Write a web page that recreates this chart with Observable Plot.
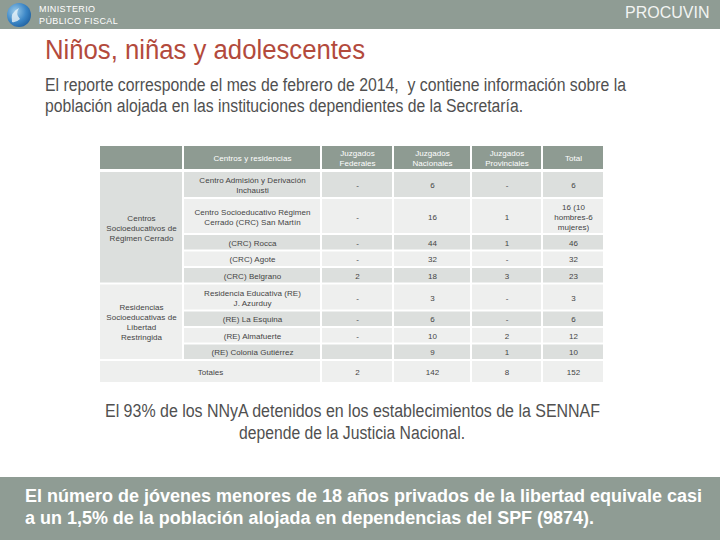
<!DOCTYPE html>
<html><head><meta charset="utf-8">
<script src="https://cdn.jsdelivr.net/npm/d3@7"></script>
<script src="https://cdn.jsdelivr.net/npm/@observablehq/plot@0.6"></script>
<style>
html,body{margin:0;padding:0;background:#fff;width:720px;height:540px;overflow:hidden;font-family:"Liberation Sans",Arial,sans-serif;}
.abs{position:absolute;white-space:nowrap;}
#topbar{position:absolute;left:0;top:0;width:720px;height:29px;background:#8f9c94;}
#botbar{position:absolute;left:0;top:477px;width:720px;height:63px;background:#8f9c94;}
.fit{display:inline-block;transform-origin:0 0;}
#table{position:absolute;left:0;top:140px;}
</style></head>
<body>
<div id="topbar"></div>
<svg class="abs" style="left:6px;top:2px" width="26" height="26" viewBox="0 0 26 26">
  <defs><radialGradient id="lg" cx="0.35" cy="0.35" r="0.75"><stop offset="0" stop-color="#9ccbe9"/><stop offset="0.6" stop-color="#3b86c6"/><stop offset="1" stop-color="#1f5f9e"/></radialGradient></defs>
  <circle cx="13" cy="13" r="12" fill="url(#lg)"/>
  <path d="M6 20 Q4 10 13 6 Q9 12 14 17 Q10 21 6 20Z" fill="#e9f2f8" opacity="0.8"/>
</svg>
<div class="abs" style="left:39px;top:5px;font-size:9px;line-height:9px;color:#fff;letter-spacing:0.4px">MINISTERIO</div>
<div class="abs" style="left:39px;top:17px;font-size:9px;line-height:9px;color:#fff;letter-spacing:0.4px">PÚBLICO FISCAL</div>
<div class="abs" style="left:625px;top:5px;font-size:16px;line-height:16px;color:#f2f4f2">PROCUVIN</div>

<div class="abs" style="left:45px;top:37px;font-size:27px;line-height:27px;color:#b34a3c"><span class="fit" data-w="320">Niños, niñas y adolescentes</span></div>
<div class="abs" style="left:45px;top:76px;font-size:18px;line-height:18px;color:#505050"><span class="fit" data-w="581">El reporte corresponde el mes de febrero de 2014,&nbsp; y contiene información sobre la</span></div>
<div class="abs" style="left:45px;top:97px;font-size:18px;line-height:18px;color:#505050"><span class="fit" data-w="478">población alojada en las instituciones dependientes de la Secretaría.</span></div>

<div id="table"></div>

<div class="abs" style="left:105px;top:402px;font-size:18px;line-height:18px;color:#505050"><span class="fit" data-w="495">El 93% de los NNyA detenidos en los establecimientos de la SENNAF</span></div>
<div class="abs" style="left:239px;top:424px;font-size:18px;line-height:18px;color:#505050"><span class="fit" data-w="226">depende de la Justicia Nacional.</span></div>

<div id="botbar"></div>
<div class="abs" style="left:25px;top:487px;font-size:18px;line-height:18px;color:#fff;font-weight:bold"><span class="fit" data-w="677">El número de jóvenes menores de 18 años privados de la libertad equivale casi</span></div>
<div class="abs" style="left:25px;top:509px;font-size:18px;line-height:18px;color:#fff;font-weight:bold"><span class="fit" data-w="569">a un 1,5% de la población alojada en dependencias del SPF (9874).</span></div>

<script>
// ---- data ----
const columns = ["Centros y residencias", "Juzgados\nFederales", "Juzgados\nNacionales", "Juzgados\nProvinciales", "Total"];
const groups = ["Centros\nSocioeducativos de\nRégimen Cerrado", "Residencias\nSocioeducativas de\nLibertad\nRestringida"];
const centros = [
  "Centro Admisión y Derivación\nInchausti",
  "Centro Socioeducativo Régimen\nCerrado (CRC) San Martín",
  "(CRC) Rocca",
  "(CRC) Agote",
  "(CRC) Belgrano",
  "Residencia Educativa (RE)\nJ. Azurduy",
  "(RE) La Esquina",
  "(RE) Almafuerte",
  "(RE) Colonia Gutiérrez"
];
const grupoDe = [0, 0, 0, 0, 0, 1, 1, 1, 1];
const federales = ["-", "-", "-", "-", "2", "-", "-", "-", ""];
const nacionales = ["6", "16", "44", "32", "18", "3", "6", "10", "9"];
const provinciales = ["-", "1", "1", "-", "3", "-", "-", "2", "1"];
const totalCol = ["6", "16 (10\nhombres-6\nmujeres)", "46", "32", "23", "3", "6", "12", "10"];
const totalesLabel = "Totales";
const totalesValues = ["2", "142", "8", "152"];

// ---- layout (styles/sizes) ----
const L = {x0: 100, y0: 6, colW: [82, 136, 70, 76, 69, 60], gap: 2, headerH: 23, headerGap: 3,
  rowH: {1: 14.5, 2: 25, 3: 34}, totalesH: 21};
const C = {header: "#8e9b92", dark: "#dcdfdd", light: "#eeefee", text: "#444444", headText: "#ffffff"};
const colX = c => L.x0 + d3.sum(L.colW.slice(0, c)) + c * L.gap;
const colR = c => colX(c) + L.colW[c];
const nLines = s => s.split("\n").length;

const cells = [];
let y = L.y0;
for (let c = 0; c < 6; c++) cells.push({x1: colX(c), x2: colR(c), y1: y, y2: y + L.headerH, fill: C.header, text: c === 0 ? "" : columns[c - 1], tfill: C.headText});
y += L.headerH + L.headerGap;
const rowY = [];
centros.forEach((name, i) => {
  const vals = [name, federales[i], nacionales[i], provinciales[i], totalCol[i]];
  const h = L.rowH[Math.max(...vals.map(nLines), 1)];
  const fill = i % 2 === 0 ? C.dark : C.light;
  rowY.push([y, y + h]);
  vals.forEach((v, k) => cells.push({x1: colX(k + 1), x2: colR(k + 1), y1: y, y2: y + h, fill, text: v, tfill: C.text}));
  y += h + L.gap;
});
groups.forEach((g, gi) => {
  const idx = grupoDe.map((v, i) => v === gi ? i : -1).filter(i => i >= 0);
  cells.push({x1: colX(0), x2: colR(0), y1: rowY[idx[0]][0], y2: rowY[idx[idx.length - 1]][1], fill: gi === 0 ? C.dark : C.light, text: g, tfill: C.text});
});
cells.push({x1: colX(0), x2: colR(1), y1: y, y2: y + L.totalesH, fill: C.light, text: totalesLabel, tfill: C.text});
totalesValues.forEach((v, k) => cells.push({x1: colX(k + 2), x2: colR(k + 2), y1: y, y2: y + L.totalesH, fill: C.light, text: v, tfill: C.text}));

const chart = Plot.plot({
  width: 720, height: 250, margin: 0,
  x: {type: "identity", axis: null},
  y: {type: "identity", axis: null},
  color: {type: "identity"},
  style: {background: "transparent", letterSpacing: "0.05px"},
  marks: [
    Plot.rect(cells, {x1: "x1", x2: "x2", y1: "y1", y2: "y2", fill: "fill"}),
    Plot.text(cells.filter(d => d.text), {
      x: d => (d.x1 + d.x2) / 2, y: d => (d.y1 + d.y2) / 2, text: "text", fill: "tfill",
      fontSize: 8, lineHeight: 1.25, fontFamily: "Liberation Sans, Arial, sans-serif"
    })
  ]
});
document.getElementById("table").appendChild(chart);

document.querySelectorAll(".fit").forEach(el => {
  const w = el.getBoundingClientRect().width;
  const t = +el.dataset.w;
  if (w > 0) el.style.transform = `scaleX(${t / w})`;
});
</script>
</body></html>
